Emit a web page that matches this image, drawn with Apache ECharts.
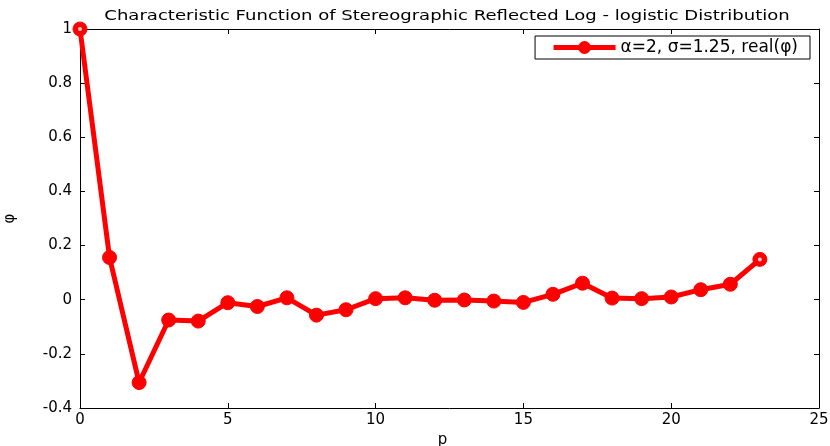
<!DOCTYPE html>
<html>
<head>
<meta charset="utf-8">
<script src="https://cdn.jsdelivr.net/npm/echarts@6/dist/echarts.min.js"></script>
<style>
  html, body { margin: 0; padding: 0; background: #fff; }
  #chart { width: 830px; height: 446px; }
</style>
</head>
<body>
<div id="chart"></div>
<script>
// values
var pValues = [0, 1, 2, 3, 4, 5, 6, 7, 8, 9, 10, 11, 12, 13, 14, 15, 16, 17, 18, 19, 20, 21, 22, 23];
var phiReal = [1.0, 0.156, -0.306, -0.075, -0.079, -0.011, -0.025, 0.007, -0.057, -0.037, 0.004, 0.007,
               -0.002, -0.001, -0.005, -0.010, 0.020, 0.061, 0.006, 0.004, 0.010, 0.037, 0.057, 0.149];
var seriesName = 'α=2, σ=1.25, real(φ)';
var titleText = 'Characteristic Function of Stereographic Reflected Log - logistic Distribution';

var FONT = 'DejaVu Sans';

var points = pValues.map(function (p, i) { return [p, phiReal[i]]; });
// the two end markers show a small hollow centre
var last = pValues.length - 1;
var endPoints = [[pValues[0], phiReal[0]], [pValues[last], phiReal[last]]];

var axisLine = { show: true, onZero: false, lineStyle: { color: '#000', width: 1 } };
var tick = { show: true, inside: true, length: 5, lineStyle: { color: '#000' } };

var chart = echarts.init(document.getElementById('chart'), null, { renderer: 'canvas' });
chart.setOption({
  backgroundColor: '#fff',
  animation: false,
  textStyle: { fontFamily: FONT },
  graphic: [{
    type: 'text',
    x: 447, y: 16,
    scaleX: 1.29,
    style: {
      text: titleText,
      font: '14px "DejaVu Sans"',
      fill: '#000',
      textAlign: 'center',
      textVerticalAlign: 'middle'
    }
  }],
  legend: {
    right: 20, top: 36,
    orient: 'vertical',
    borderColor: '#000', borderWidth: 1,
    padding: [3, 12, 3, 16],
    itemWidth: 62, itemHeight: 16,
    backgroundColor: '#fff',
    lineStyle: { width: 5, color: '#ff0000' },
    itemStyle: { color: '#ff0000' },
    textStyle: { fontFamily: FONT, fontSize: 17, color: '#000' },
    data: [seriesName]
  },
  grid: { left: 80, right: 11, top: 29, bottom: 38, outerBoundsMode: 'none' },
  xAxis: [{
    type: 'value', min: 0, max: 25, interval: 5,
    name: 'p', nameLocation: 'middle', nameGap: 23,
    nameTextStyle: { fontFamily: FONT, fontSize: 15, color: '#000', padding: [0, 14, 0, 0] },
    axisLine: axisLine,
    axisTick: tick,
    axisLabel: { color: '#000', fontSize: 15, margin: 5, fontFamily: FONT },
    splitLine: { show: false }
  }, {
    type: 'value', min: 0, max: 25, interval: 5, position: 'top',
    axisLine: axisLine,
    axisTick: tick,
    axisLabel: { show: false },
    splitLine: { show: false }
  }],
  yAxis: [{
    type: 'value', min: -0.4, max: 1, interval: 0.2,
    name: 'φ', nameLocation: 'middle', nameGap: 62, nameRotate: 90,
    nameTextStyle: { fontFamily: FONT, fontSize: 15, color: '#000' },
    axisLine: axisLine,
    axisTick: tick,
    axisLabel: { color: '#000', fontSize: 15, margin: 8, fontFamily: FONT },
    splitLine: { show: false }
  }, {
    type: 'value', min: -0.4, max: 1, interval: 0.2, position: 'right',
    axisLine: axisLine,
    axisTick: tick,
    axisLabel: { show: false },
    splitLine: { show: false }
  }],
  series: [{
    name: seriesName,
    type: 'line',
    xAxisIndex: 0, yAxisIndex: 0,
    data: points,
    clip: false,
    symbol: 'circle',
    symbolSize: 14,
    lineStyle: { color: '#ff0000', width: 5 },
    itemStyle: { color: '#ff0000', borderColor: '#ff0000' }
  }, {
    name: 'ends',
    type: 'scatter',
    data: endPoints,
    clip: false,
    symbol: 'circle',
    symbolSize: 4,
    z: 5,
    itemStyle: { color: '#fff' },
    silent: true
  }]
});
</script>
</body>
</html>
